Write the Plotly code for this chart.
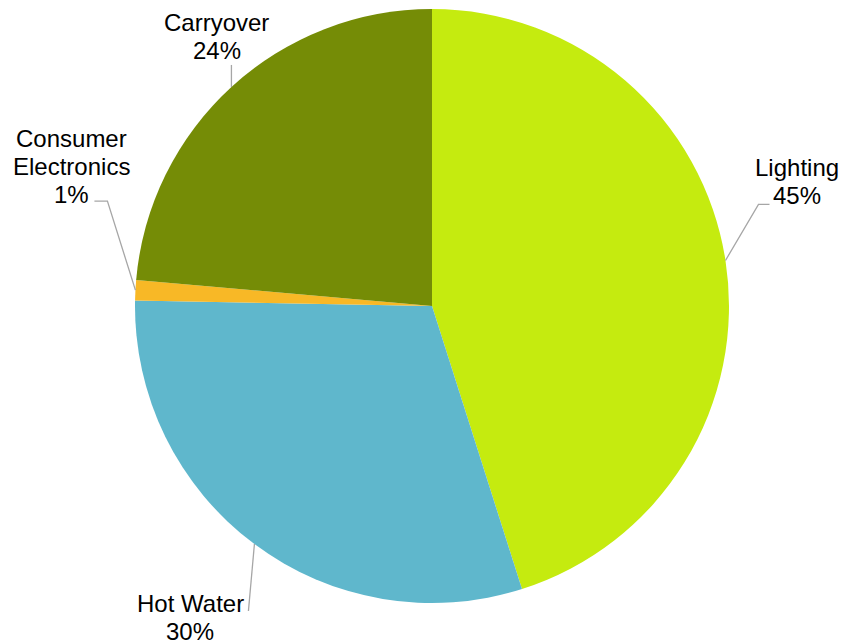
import math
import plotly.graph_objects as go

# ---- data ----
categories = ["Lighting", "Hot Water", "Consumer Electronics", "Carryover"]
label_lines = [["Lighting"], ["Hot Water"], ["Consumer", "Electronics"], ["Carryover"]]
values = [45.1, 30.2, 1.1, 23.6]
colors = ["#C5EB0F", "#5FB7CC", "#F8B826", "#758C06"]

# ---- layout / style ----
W, H = 841, 644
CX, CY, R = 432, 306, 297          # pie centre and radius in px
FONT = "Liberation Sans, Arial, sans-serif"
FS = 24
LINE_H = 28
# leader geometry per slice, relative to the slice mid-point on the rim (px)
leader_pts = [
    [(33, -56), (44, -56)],
    [(-6, 67)],
    [(-28, -89), (-41, -89)],
    [(0, -22)],
]
# label (centre x, first baseline) relative to rim mid-point (px)
label_off = [(71.5, -84.6), (-64, 68), (-63.5, -142.7), (-14.8, -55.8)]

def px2paper(x, y):
    return x / W, 1 - y / H

fig = go.Figure(go.Pie(
    labels=categories,
    values=values,
    sort=False,
    direction="clockwise",
    rotation=0,
    marker=dict(colors=colors, line=dict(width=0)),
    textinfo="none",
    hoverinfo="label+percent",
    domain=dict(x=[(CX - R) / W, (CX + R) / W],
                y=[(H - CY - R) / H, (H - CY + R) / H]),
    showlegend=False,
))

total = sum(values)
cum = 0.0
shapes, annotations = [], []
for i, v in enumerate(values):
    mid = (cum + v / 2) / total * 2 * math.pi
    cum += v
    sx = CX + R * math.sin(mid)
    sy = CY - R * math.cos(mid)
    pts = [(sx, sy)] + [(sx + dx, sy + dy) for dx, dy in leader_pts[i]]
    path = ""
    for j, (x, y) in enumerate(pts):
        xp, yp = px2paper(x, y)
        path += ("M" if j == 0 else " L") + f"{xp},{yp}"
    shapes.append(dict(type="path", path=path, xref="paper", yref="paper",
                       line=dict(color="#A6A6A6", width=1.3)))
    lines = label_lines[i] + [f"{round(v / total * 100)}%"]
    lx = sx + label_off[i][0]
    by = sy + label_off[i][1]
    for k, t in enumerate(lines):
        base = by + k * LINE_H
        xp, yp = px2paper(lx, base - 0.36 * FS)
        annotations.append(dict(text=t, x=xp, y=yp, xref="paper", yref="paper",
                                xanchor="center", yanchor="middle", showarrow=False,
                                font=dict(family=FONT, size=FS, color="#000000")))

fig.update_layout(
    width=W, height=H,
    margin=dict(l=0, r=0, t=0, b=0),
    paper_bgcolor="white", plot_bgcolor="white",
    shapes=shapes, annotations=annotations,
)
fig.write_html("out.html",
               config={"displayModeBar": False},
               post_script="document.body.style.margin='0';document.body.style.overflow='hidden';")
